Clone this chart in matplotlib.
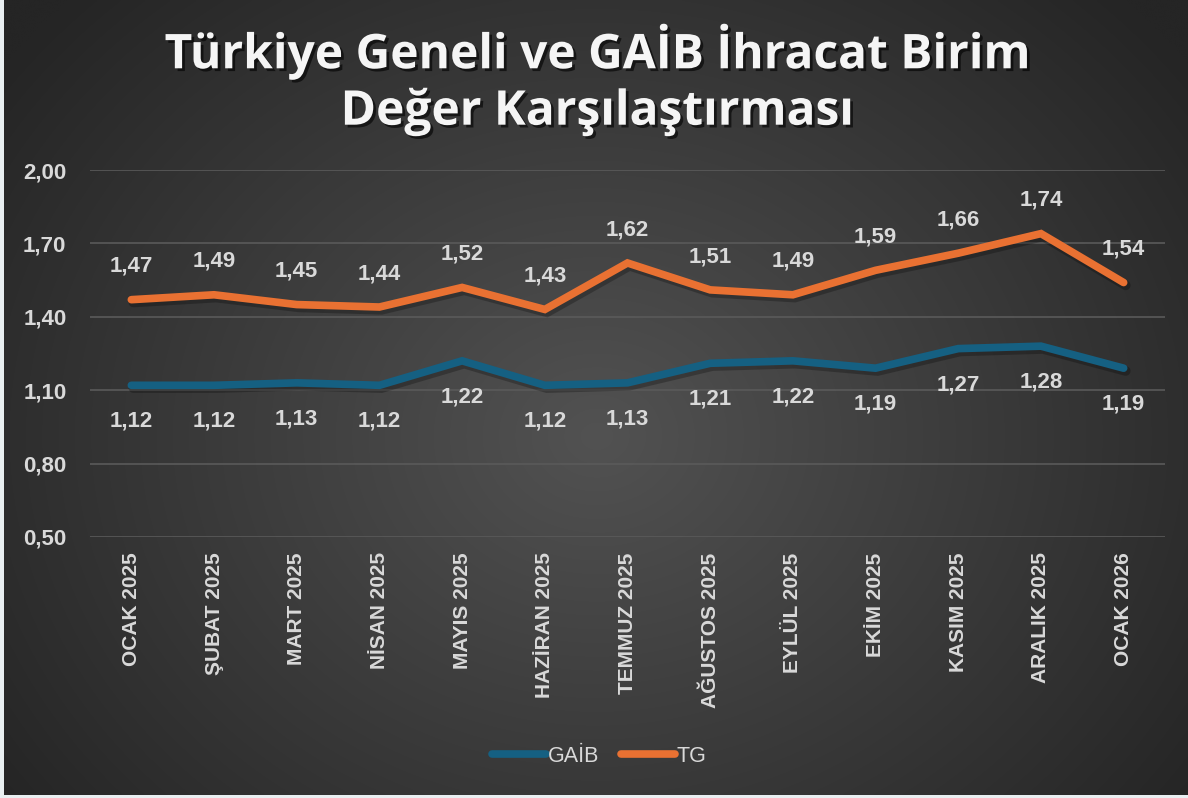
import numpy as np
import matplotlib
matplotlib.use("Agg")
import matplotlib.pyplot as plt
import matplotlib.patheffects as pe

categories = ["OCAK 2025", "ŞUBAT 2025", "MART 2025", "NİSAN 2025", "MAYIS 2025",
              "HAZİRAN 2025", "TEMMUZ 2025", "AĞUSTOS 2025", "EYLÜL 2025",
              "EKİM 2025", "KASIM 2025", "ARALIK 2025", "OCAK 2026"]
gaib = [1.12, 1.12, 1.13, 1.12, 1.22, 1.12, 1.13, 1.21, 1.22, 1.19, 1.27, 1.28, 1.19]
tg = [1.47, 1.49, 1.45, 1.44, 1.52, 1.43, 1.62, 1.51, 1.49, 1.59, 1.66, 1.74, 1.54]
yticks = [0.50, 0.80, 1.10, 1.40, 1.70, 2.00]
title = "Türkiye Geneli ve GAİB İhracat Birim\nDeğer Karşılaştırması"

W, H = 1188, 798
fig = plt.figure(figsize=(W/100, H/100), dpi=100)
fig.patch.set_facecolor("#e9eff1")

# background radial gradient
bg = fig.add_axes([4/W, 3/H, 1 - 4/W, 1 - 3/H])
bg.set_axis_off()
ny, nx = 400, 600
yy, xx = np.mgrid[0:ny, 0:nx]
cx, cy = nx*0.5, ny*0.45
r = np.sqrt(((xx-cx)/(nx*0.62))**2 + ((yy-cy)/(ny*0.78))**2)
r = np.clip(r, 0, 1)
inner = np.array([0x52, 0x52, 0x52]) / 255
outer = np.array([0x25, 0x25, 0x25]) / 255
img = inner[None, None, :]*(1-r[..., None]) + outer[None, None, :]*r[..., None]
bg.imshow(img, aspect="auto", extent=[0, 1, 0, 1], interpolation="bicubic", origin="lower")
bg.set_xlim(0, 1); bg.set_ylim(0, 1)

ax = fig.add_axes([90/W, 1-537/H, (1165-90)/W, (537-170)/H])
ax.set_facecolor("none")
x = np.arange(len(categories))
ax.set_xlim(-0.5, len(categories)-0.5)
ax.set_ylim(0.50, 2.00)

txtcol = "#d9d9d9"
FONT = "Liberation Sans"
shadow = [pe.SimpleLineShadow(offset=(1.5, -2), shadow_color="black", alpha=0.25, linewidth=7), pe.Normal()]
ax.plot(x, gaib, color="#156082", lw=5.5, solid_capstyle="round", solid_joinstyle="miter",
        path_effects=shadow, zorder=3, label="GAİB")
ax.plot(x, tg, color="#E97132", lw=5.5, solid_capstyle="round", solid_joinstyle="miter",
        path_effects=shadow, zorder=3, label="TG")

for xi, v in zip(x, gaib):
    ax.annotate(f"{v:.2f}".replace(".", ","), (xi, v), xytext=(0, -26), textcoords="offset points",
                ha="center", va="center", fontsize=16, fontweight="bold", color=txtcol,
                family=FONT)
for xi, v in zip(x, tg):
    ax.annotate(f"{v:.2f}".replace(".", ","), (xi, v), xytext=(0, 24), textcoords="offset points",
                ha="center", va="center", fontsize=16, fontweight="bold", color=txtcol,
                family=FONT)

ax.set_yticks(yticks)
ax.set_yticklabels([f"{t:.2f}".replace(".", ",") for t in yticks], fontsize=16,
                   fontweight="bold", color=txtcol, family=FONT)
ax.set_xticks(x)
ax.set_xticklabels(categories, rotation=90, fontsize=15, fontweight="bold", color=txtcol,
                   family=FONT, va="top", ha="center")
ax.tick_params(axis="both", length=0)
ax.tick_params(axis="y", pad=17)
ax.tick_params(axis="x", pad=11)
ax.grid(axis="y", color="#5a5a5a", lw=1.2)
ax.set_axisbelow(True)
for s in ax.spines.values():
    s.set_visible(False)

leg = fig.legend(loc="center", bbox_to_anchor=(0.5045, 1-756/H), ncol=2, frameon=False,
                 prop={"family": FONT, "size": 15.5}, handlelength=2.5,
                 handletextpad=0.1, columnspacing=1.0)
for t in leg.get_texts():
    t.set_color(txtcol)
for h in leg.get_lines():
    h.set_path_effects([])
    h.set_linewidth(5.5)
    h.set_solid_capstyle("round")

fig.text(0.5025, 1-80/H, title, ha="center", va="center", fontsize=34.5, fontweight="bold",
         color="#f5f5f5", family="Open Sans", linespacing=1.2,
         path_effects=[pe.withSimplePatchShadow(offset=(2, -2), shadow_rgbFace="black", alpha=0.6)])

fig.savefig("out.png", dpi=100)
